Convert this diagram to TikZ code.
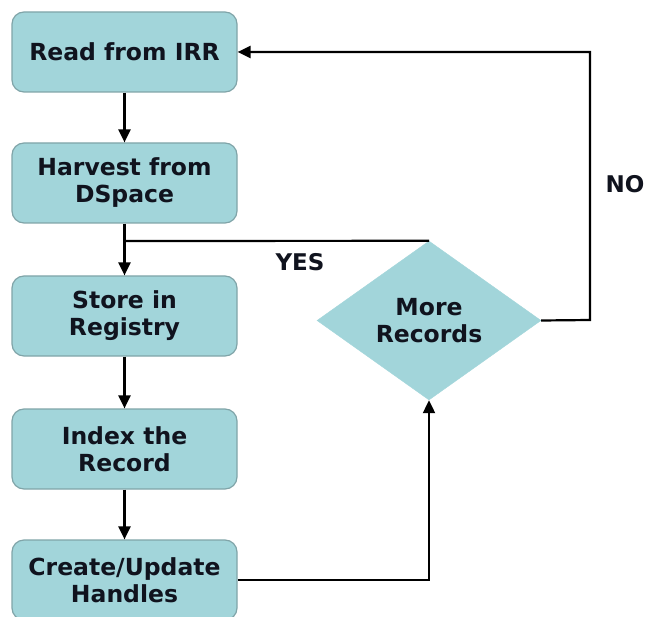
\documentclass[tikz,border=0pt]{standalone}
\usepackage{fontspec}
\setmainfont{DejaVu Sans}
\usetikzlibrary{arrows.meta,shapes.geometric}
\definecolor{boxfill}{HTML}{A2D5DA}
\definecolor{boxedge}{HTML}{80A4A8}
\definecolor{txt}{HTML}{10131E}
\begin{document}
\begin{tikzpicture}[x=1pt,y=-1pt,
  stepbox/.style={draw=boxedge,line width=1.2pt,fill=boxfill,rounded corners=12pt,minimum width=225pt,minimum height=80pt,
    align=center,font=\bfseries\fontsize{23.5}{27}\selectfont,text=txt,inner sep=0pt},
  decision/.style={diamond,draw=boxfill,fill=boxfill,minimum width=224pt,minimum height=159pt,inner sep=0pt,
    align=center,font=\bfseries\fontsize{23.5}{27}\selectfont,text=txt},
  conn/.style={draw=black,line width=2.2pt},
  arr/.style={conn,-{Triangle[length=13pt,width=12pt]}},
  lbl/.style={font=\bfseries\fontsize{23}{26}\selectfont,text=txt}]
\useasboundingbox (0,0) rectangle (647,617);
\node[stepbox] (a) at (124.5,52) {Read from IRR};
\node[stepbox] (b) at (124.5,183) {Harvest from\\DSpace};
\node[stepbox] (c) at (124.5,316) {Store in\\Registry};
\node[stepbox] (d) at (124.5,449) {Index the\\Record};
\node[stepbox] (e) at (124.5,580) {Create/Update\\Handles};
\node[decision] (m) at (429,320.5) {More\\Records};
\draw[arr] (a) -- (b);
\draw[arr] (b) -- (c);
\draw[arr] (c) -- (d);
\draw[arr] (d) -- (e);
\coordinate (j) at (124.5,241);
\draw[conn] (m.north) -- (j);
\draw[arr] (e.east) -| (m.south);
\coordinate (r) at (590,320);
\draw[arr] (m.east) -- (r) |- (a.east);
\node[lbl] (yes) at (300,262) {YES};
\node[lbl] (no) at (625,184) {NO};
\end{tikzpicture}
\end{document}
